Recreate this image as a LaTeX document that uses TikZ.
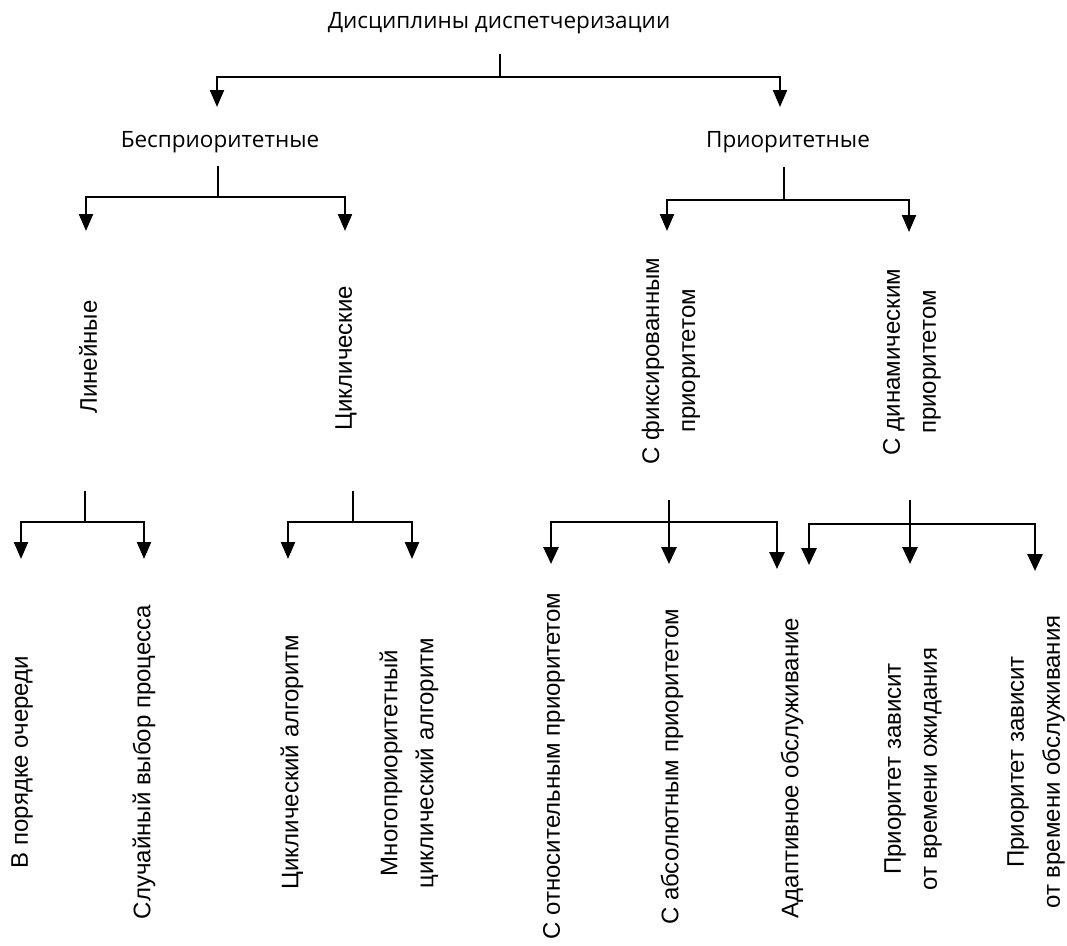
\documentclass[tikz,border=0pt]{standalone}
\usepackage{fontspec}
\setmainfont{Liberation Sans}
\newfontfamily\headfont{Open Sans}
\usetikzlibrary{arrows.meta}

\tikzset{
  wire/.style={line width=2.2pt, line cap=rect},
  wirebold/.style={line width=2.7pt, line cap=rect},
  arr/.style={wire, -{Triangle[length=17pt,width=14pt]}},
  arrbold/.style={wirebold, -{Triangle[length=17pt,width=15pt]}},
  headlabel/.style={font=\headfont\fontsize{22.5}{26}\selectfont, inner sep=0pt, anchor=base},
  leaf/.style={font=\fontsize{24}{36}\selectfont, rotate=90, align=center, inner sep=0pt, anchor=center}
}

\begin{document}
\begin{tikzpicture}[x=1pt, y=-1pt]
  \useasboundingbox (0,0) rectangle (1067,945);

  % ---------- level 0 ----------
  \node[headlabel] (root) at (499,28) {Дисциплины диспетчеризации};

  % ---------- level 1 ----------
  \node[headlabel] (nonprio) at (220,147) {Бесприоритетные};
  \node[headlabel] (prio)    at (788,147) {Приоритетные};

  % ---------- level 2 ----------
  \node[leaf] (lin)  at (88,357)  {Линейные};
  \node[leaf] (cyc)  at (346,358) {Циклические};
  \node[leaf] (fix)  at (671,361) {С фиксированным\\приоритетом};
  \node[leaf] (dyn)  at (912,362) {С динамическим\\приоритетом};

  % ---------- level 3 ----------
  \node[leaf] (fifo)  at (22,762)   {В порядке очереди};
  \node[leaf] (rand)  at (144,762)  {Случайный выбор процесса};
  \node[leaf] (rr)    at (292,762)  {Циклический алгоритм};
  \node[leaf] (mrr)   at (409,763)  {Многоприоритетный\\циклический алгоритм};
  \node[leaf] (rel)   at (554,766)  {С относительным приоритетом};
  \node[leaf] (abs)   at (672,767)  {С абсолютным приоритетом};
  \node[leaf] (adapt) at (792,768)  {Адаптивное обслуживание};
  \node[leaf] (wait)  at (913,769)  {Приоритет зависит\\от времени ожидания};
  \node[leaf] (serv)  at (1036,762) {Приоритет зависит\\от времени обслуживания};

  % ---------- junction points and arrow tips ----------
  \coordinate (r0) at (500,55);   \coordinate (rb) at (500,77);
  \coordinate (t-nonprio) at (217,107); \coordinate (t-prio) at (780,107);

  \coordinate (n0) at (218,167);  \coordinate (nb) at (218,197);
  \coordinate (t-lin) at (86,231); \coordinate (t-cyc) at (345,231);

  \coordinate (p0) at (784,168);  \coordinate (pb) at (784,200);
  \coordinate (t-fix) at (667,231); \coordinate (t-dyn) at (909,232);

  \coordinate (l0) at (85,492);   \coordinate (lb) at (85,522);
  \coordinate (t-fifo) at (21,559); \coordinate (t-rand) at (144,559);

  \coordinate (c0) at (353,492);  \coordinate (cb) at (353,522);
  \coordinate (t-rr) at (288,559); \coordinate (t-mrr) at (412,559);

  \coordinate (f0) at (669,501);  \coordinate (fb) at (669,522);
  \coordinate (t-rel) at (551,564); \coordinate (t-abs) at (669,564); \coordinate (t-adapt) at (777,569);

  \coordinate (d0) at (910,501);  \coordinate (db) at (910,524);
  \coordinate (t-wait) at (809,565); \coordinate (t-dwait) at (910,564); \coordinate (t-serv) at (1035,571);

  % ---------- connectors ----------
  \draw[wire] (r0) -- (rb);
  \draw[arr] (rb) -| (t-nonprio);
  \draw[arr] (rb) -| (t-prio);

  \draw[wire] (n0) -- (nb);
  \draw[arr] (nb) -| (t-lin);
  \draw[arr] (nb) -| (t-cyc);

  \draw[wire] (p0) -- (pb);
  \draw[arr] (pb) -| (t-fix);
  \draw[arr] (pb) -| (t-dyn);

  \draw[wire] (l0) -- (lb);
  \draw[arr] (lb) -| (t-fifo);
  \draw[arr] (lb) -| (t-rand);

  \draw[wire] (c0) -- (cb);
  \draw[arr] (cb) -| (t-rr);
  \draw[arr] (cb) -| (t-mrr);

  \draw[arrbold] (f0) -- (t-abs);
  \draw[arrbold] (fb) -| (t-rel);
  \draw[arrbold] (fb) -| (t-adapt);

  \draw[arrbold] (d0) -- (t-dwait);
  \draw[arrbold] (db) -| (t-wait);
  \draw[arrbold] (db) -| (t-serv);
\end{tikzpicture}
\end{document}
